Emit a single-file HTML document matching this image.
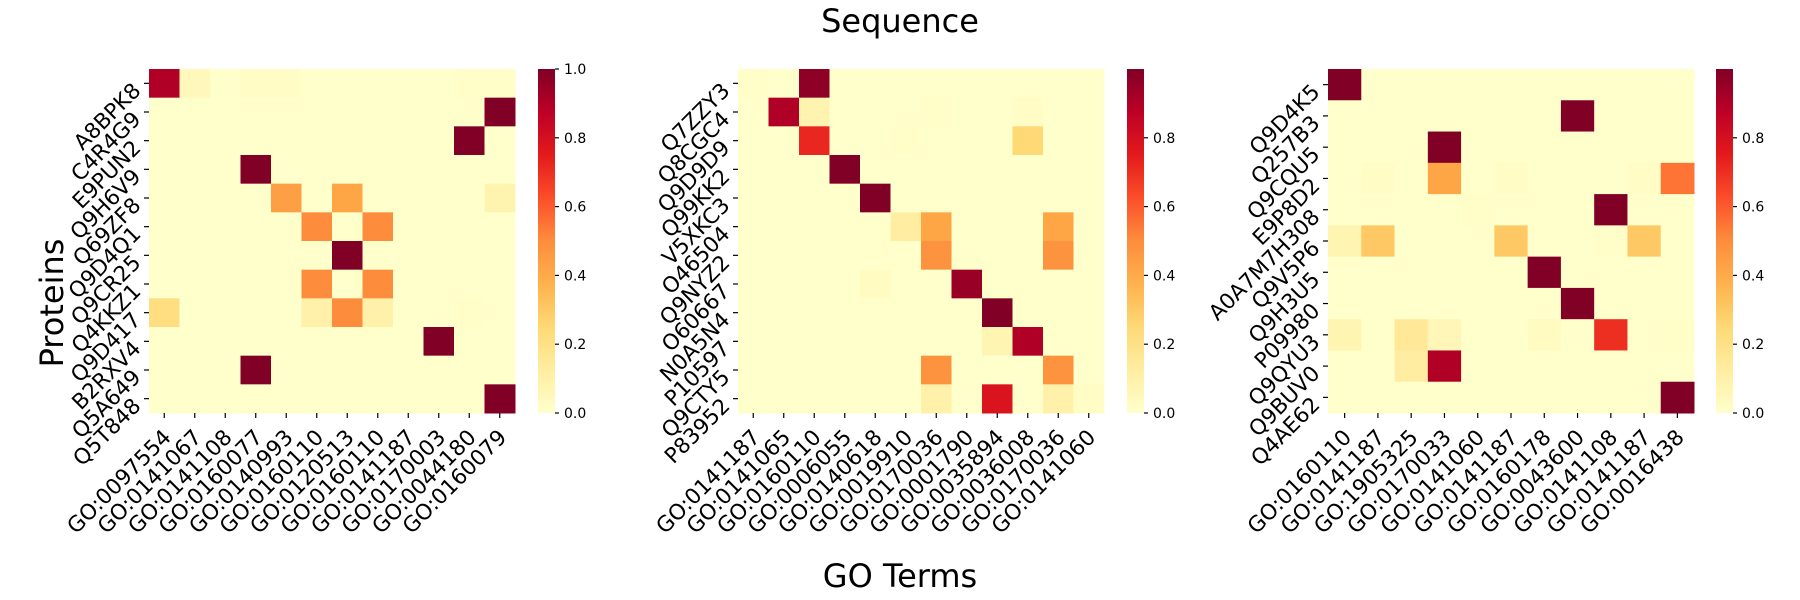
<!DOCTYPE html>
<html><head><meta charset="utf-8"><style>
html,body{margin:0;padding:0;background:#fff;}
svg{display:block;font-family:"DejaVu Sans","Liberation Sans",sans-serif;}
</style></head><body>
<svg id="s" width="1800" height="600" xmlns="http://www.w3.org/2000/svg">
<defs>
<linearGradient id="cb" x1="0" y1="1" x2="0" y2="0">
<stop offset="0" stop-color="#ffffcc"/><stop offset="0.125" stop-color="#ffeda0"/>
<stop offset="0.25" stop-color="#fed976"/><stop offset="0.375" stop-color="#feb24c"/>
<stop offset="0.5" stop-color="#fd8d3c"/><stop offset="0.625" stop-color="#fc4e2a"/>
<stop offset="0.75" stop-color="#e31a1c"/><stop offset="0.875" stop-color="#bd0026"/>
<stop offset="1" stop-color="#800026"/></linearGradient>
</defs>
<text x="900" y="32" font-size="32" text-anchor="middle">Sequence</text>
<text x="900" y="587" font-size="32" text-anchor="middle">GO Terms</text>
<text transform="translate(63,303) rotate(-90)" font-size="32" text-anchor="middle">Proteins</text>
</svg>
<script>
var S=document.getElementById('s'),NS='http://www.w3.org/2000/svg';
var C=['#ffffcc','#ffeda0','#fed976','#feb24c','#fd8d3c','#fc4e2a','#e31a1c','#bd0026','#800026'];
function h2r(h){return [parseInt(h.substr(1,2),16),parseInt(h.substr(3,2),16),parseInt(h.substr(5,2),16)];}
function col(v){v=Math.max(0,Math.min(1,v));var t=v*8,i=Math.min(7,Math.floor(t)),f=t-i;var a=h2r(C[i]),b=h2r(C[i+1]);
return 'rgb('+a.map(function(x,k){return Math.round(x+(b[k]-x)*f);}).join(',')+')';}
function el(n,a,txt){var e=document.createElementNS(NS,n);for(var k in a)e.setAttribute(k,a[k]);if(txt!==undefined)e.textContent=txt;S.appendChild(e);return e;}
function panel(p){
 var nr=p.rows.length,nc=p.cols.length,W=p.r-p.l,H=413-69,cw=W/nc,ch=H/nr;
 for(var i=0;i<nr;i++)for(var j=0;j<nc;j++){var v=(p.d[i]&&p.d[i][j])||0;
  el('rect',{x:p.l+j*cw,y:69+i*ch,width:cw+0.5,height:ch+0.5,fill:col(v)});}
 var fs=21.5,a=0.76*fs/Math.SQRT2;
 for(var i=0;i<nr;i++){var yc=69+(i+0.5)*ch;
  el('line',{x1:p.l-5,y1:yc,x2:p.l,y2:yc,stroke:'#000','stroke-width':1.2});
  el('text',{x:0,y:0,'font-size':fs,'text-anchor':'end',transform:'translate('+(p.l-7)+','+(yc-3+a)+') rotate(-45)'},p.rows[i]);}
 for(var j=0;j<nc;j++){var xc=p.l+(j+0.5)*cw;
  el('line',{x1:xc,y1:413,x2:xc,y2:418,stroke:'#000','stroke-width':1.2});
  el('text',{x:0,y:0,'font-size':fs,'text-anchor':'end',transform:'translate('+(xc+8)+','+(427+a)+') rotate(-45)'},p.cols[j]);}
 el('rect',{x:p.cb,y:69,width:17,height:344,fill:'url(#cb)'});
 p.ticks.forEach(function(t){var y=413-t*344;
  el('line',{x1:p.cb+17,y1:y,x2:p.cb+21,y2:y,stroke:'#000','stroke-width':1.2});
  el('text',{x:p.cb+26,y:y+5,'font-size':14},t.toFixed(1));});
}
function M(n,m,list){var d=[];for(var i=0;i<n;i++){d.push([]);for(var j=0;j<m;j++)d[i].push(0);}list.forEach(function(e){d[e[0]][e[1]]=e[2];});return d;}
panel({l:149,r:515,cb:538,ticks:[0,0.2,0.4,0.6,0.8,1.0],
 rows:['A8BPK8','C4R4G9','E9PUN2','Q9H6V9','Q69ZF8','Q9D4Q1','Q9CR25','Q4KKZ1','Q9D417','B2RXV4','Q5A649','Q5T848'],
 cols:['GO:0097554','GO:0141067','GO:0141108','GO:0160077','GO:0140993','GO:0160110','GO:0120513','GO:0160110','GO:0141187','GO:0170003','GO:0044180','GO:0160079'],
 d:M(12,12,[[0,0,0.9],[0,1,0.05],[0,3,0.02],[0,4,0.02],[0,10,0.01],[0,11,0.01],[1,11,1],[2,10,1],[3,3,1],[4,4,0.44],[4,6,0.42],[4,11,0.08],
 [5,5,0.5],[5,7,0.5],[6,6,1],[7,5,0.5],[7,7,0.5],[8,0,0.22],[8,5,0.1],[8,6,0.5],[8,7,0.1],[8,10,0.01],[9,9,1],[10,3,1],[11,11,1]])});
panel({l:738,r:1104,cb:1127,ticks:[0,0.2,0.4,0.6,0.8],
 rows:['Q7ZZY3','Q8CGC4','Q9D9D9','Q99KK2','V5XKC3','O46504','Q9NYZ2','O60667','N0A5N4','P10597','Q9CTY5','P83952'],
 cols:['GO:0141187','GO:0141065','GO:0160110','GO:0006055','GO:0140618','GO:0019910','GO:0170036','GO:0001790','GO:0035894','GO:0036008','GO:0170036','GO:0141060'],
 d:M(12,12,[[0,0,0.01],[0,2,0.97],[1,1,0.9],[1,2,0.08],[1,6,0.01],[1,9,0.02],[2,2,0.72],[2,9,0.25],[2,5,0.01],[3,3,1],[4,4,1],
 [5,5,0.12],[5,6,0.42],[5,10,0.42],[6,6,0.48],[6,10,0.48],[7,4,0.03],[7,7,0.95],[8,8,1],[9,8,0.07],[9,9,0.9],[10,6,0.48],[10,10,0.48],
 [11,6,0.1],[11,8,0.78],[11,10,0.1],[11,11,0.02]])});
panel({l:1328,r:1694,cb:1716,ticks:[0,0.2,0.4,0.6,0.8],
 rows:['Q9D4K5','Q257B3','Q9CQU5','E9P8D2','A0A7M7H308','Q9V5P6','Q9H3U5','P09980','Q9QYU3','Q9BUV0','Q4AE62'],
 cols:['GO:0160110','GO:0141187','GO:1905325','GO:0170033','GO:0141060','GO:0141187','GO:0160178','GO:0043600','GO:0141108','GO:0141187','GO:0016438'],
 d:M(11,11,[[0,0,1],[1,7,1],[2,3,1],[3,3,0.42],[3,1,0.02],[3,5,0.02],[3,9,0.02],[3,10,0.55],[4,8,1],[4,4,0.01],
 [5,0,0.07],[5,1,0.3],[5,5,0.3],[5,9,0.3],[5,8,0.01],[6,6,1],[7,7,1],[8,0,0.07],[8,2,0.15],[8,3,0.06],[8,6,0.03],[8,8,0.7],[8,10,0.01],
 [9,2,0.12],[9,3,0.9],[10,10,1]])});
</script>
</body></html>
